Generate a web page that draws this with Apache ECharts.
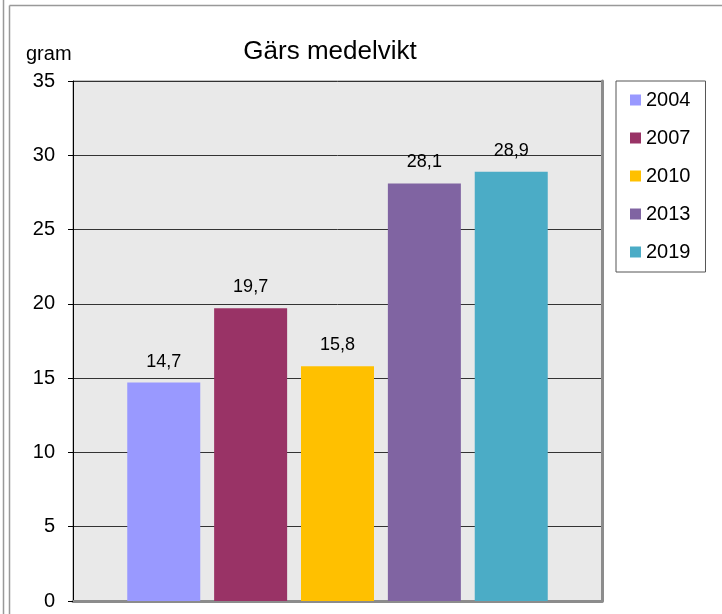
<!DOCTYPE html>
<html>
<head>
<meta charset="utf-8">
<script src="https://cdn.jsdelivr.net/npm/echarts@6/dist/echarts.min.js"></script>
<style>
  html, body { margin: 0; padding: 0; background: #fff; }
  #chart { width: 722px; height: 614px; }
</style>
</head>
<body>
<div id="chart"></div>
<script>
// data
var years = ['2004', '2007', '2010', '2013', '2019'];
var weights = [14.7, 19.7, 15.8, 28.1, 28.9];
var colors = ['#9999ff', '#993366', '#ffc000', '#8064a2', '#4bacc6'];
var yTicks = { min: 0, max: 35, interval: 5 };

var font = '"Liberation Sans", Arial, sans-serif';
var myChart = echarts.init(document.getElementById('chart'));

var series = years.map(function (y, i) {
    return {
        name: y,
        type: 'bar',
        data: [weights[i]],
        barWidth: 73,
        barGap: '19%',
        itemStyle: { color: colors[i] },
        label: {
            show: true,
            position: 'top',
            distance: 12,
            color: '#000',
            fontSize: 18,
            fontFamily: font,
            formatter: function (p) {
                return String(p.value).replace('.', ',');
            }
        }
    };
});

var option = {
    animation: false,
    backgroundColor: '#fff',
    title: [
        {
            text: 'Gärs medelvikt',
            left: 325,
            top: 34,
            textAlign: 'center',
            textStyle: { fontSize: 26, fontWeight: 'normal', color: '#000', fontFamily: font }
        },
        {
            text: 'gram',
            left: 21,
            top: 39,
            textStyle: { fontSize: 20, fontWeight: 'normal', color: '#000', fontFamily: font }
        }
    ],
    legend: {
        orient: 'vertical',
        left: 616,
        top: 81,
        padding: [9, 15, 10, 14],
        itemWidth: 11,
        itemHeight: 11,
        itemGap: 18,
        icon: 'rect',
        borderColor: '#555',
        borderWidth: 1,
        textStyle: { fontSize: 20, color: '#000', fontFamily: font, lineHeight: 20 },
        data: years
    },
    grid: {
        left: 73,
        top: 81,
        width: 529,
        height: 520,
        show: true,
        backgroundColor: '#e9e9e9',
        borderColor: '#888',
        borderWidth: 1
    },
    xAxis: {
        type: 'category',
        data: [''],
        axisLine: { show: true, lineStyle: { color: '#8c8c8c', width: 3 } },
        axisTick: { show: false },
        axisLabel: { show: false }
    },
    yAxis: [
        {
            type: 'value',
            min: yTicks.min,
            max: yTicks.max,
            interval: yTicks.interval,
            axisLine: { show: true, lineStyle: { color: '#000', width: 1 } },
            axisTick: { show: true, length: 5, lineStyle: { color: '#000' } },
            axisLabel: { fontSize: 20, color: '#000', fontFamily: font, margin: 18 },
            splitLine: { show: true, lineStyle: { color: '#333', width: 1 } }
        },
        {
            type: 'value',
            position: 'right',
            min: yTicks.min,
            max: yTicks.max,
            interval: yTicks.interval,
            axisLine: { show: true, lineStyle: { color: '#8c8c8c', width: 3 } },
            axisTick: { show: false },
            axisLabel: { show: false },
            splitLine: { show: false }
        }
    ],
    graphic: [
        { type: 'line', shape: { x1: 3.5, y1: 0, x2: 3.5, y2: 614 }, style: { stroke: '#999', lineWidth: 1.5 } },
        { type: 'line', shape: { x1: 9.5, y1: 5.5, x2: 9.5, y2: 614 }, style: { stroke: '#999', lineWidth: 1.5 } },
        { type: 'line', shape: { x1: 9.5, y1: 5.5, x2: 722, y2: 5.5 }, style: { stroke: '#999', lineWidth: 1.5 } }
    ],
    series: series
};

myChart.setOption(option);
</script>
</body>
</html>
